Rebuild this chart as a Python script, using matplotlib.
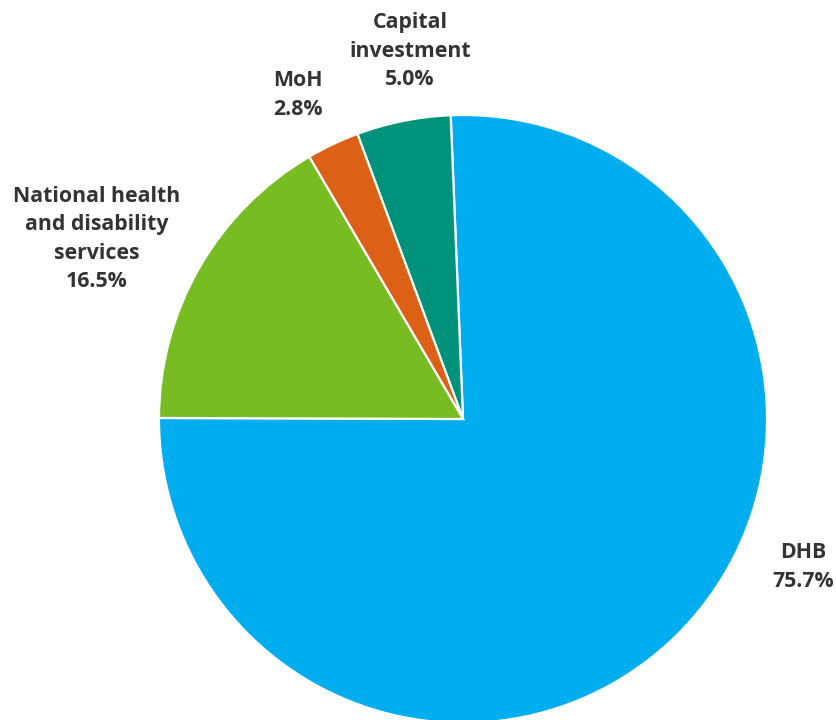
import matplotlib.pyplot as plt

categories = ["DHB", "Capital\ninvestment", "MoH", "National health\nand disability\nservices"]
shares = [75.7, 5.0, 2.8, 16.5]
colours = ["#00AEEF", "#00927A", "#DC6016", "#77BC22"]

# label anchor points in pixels (centre of text block)
label_px = [(803, 567), (410, 51), (298, 95), (97, 239)]

W, H = 836, 720
cx, cy, r = 463, 419, 304

fig = plt.figure(figsize=(W / 100, H / 100), dpi=100)
ax = fig.add_axes([0, 0, 1, 1])

ax.pie(shares, colors=colours, startangle=179.8, counterclock=True,
       wedgeprops=dict(edgecolor="white", linewidth=1.6))

ax.set_xlim(-cx / r, (W - cx) / r)
ax.set_ylim((cy - H) / r, cy / r)
ax.set_aspect("equal")
ax.axis("off")

for name, val, (px, py) in zip(categories, shares, label_px):
    ax.text((px - cx) / r, (cy - py) / r, f"{name}\n{val:.1f}%",
            ha="center", va="center", fontsize=15.3, fontweight="bold",
            family="Open Sans", color="#333333", linespacing=1.46)

fig.savefig("out.png", dpi=100)
